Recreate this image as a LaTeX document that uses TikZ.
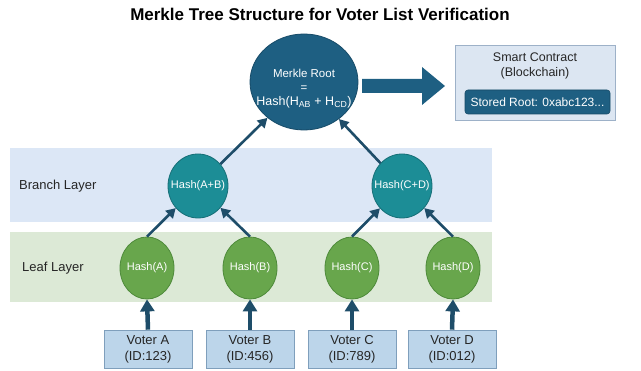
\documentclass[tikz,border=0pt]{standalone}
\usepackage{fontspec}
\setmainfont{Liberation Sans}
\usetikzlibrary{arrows.meta,shapes.geometric}

\definecolor{rootblue}{HTML}{1E5F82}
\definecolor{rootedge}{HTML}{174B68}
\definecolor{branchteal}{HTML}{1C8D96}
\definecolor{branchedge}{HTML}{166F77}
\definecolor{leafgreen}{HTML}{68A64C}
\definecolor{leafedge}{HTML}{4E8A3A}
\definecolor{bandblue}{HTML}{DCE7F6}
\definecolor{bandgreen}{HTML}{DCE9D6}
\definecolor{arrowblue}{HTML}{1E4D69}
\definecolor{voterfill}{HTML}{BCD5EA}
\definecolor{voteredge}{HTML}{7F9FBC}
\definecolor{scfill}{HTML}{DCE6F2}
\definecolor{scedge}{HTML}{9DB1C8}
\definecolor{txt}{HTML}{262626}

\tikzset{
  hashnode/.style={ellipse, inner sep=0pt, line width=0.8pt},
  rootnode/.style={hashnode, fill=rootblue, draw=rootedge, minimum width=108pt, minimum height=96pt},
  branchnode/.style={hashnode, fill=branchteal, draw=branchedge, minimum width=60pt, minimum height=64pt},
  leafnode/.style={hashnode, fill=leafgreen, draw=leafedge, minimum width=54pt, minimum height=62pt},
  inlabel/.style={text=white, font=\fontsize{11}{14}\selectfont, align=center, inner sep=0pt},
  voterbox/.style={rectangle, fill=voterfill, draw=voteredge, line width=0.6pt,
    minimum width=88pt, minimum height=38pt, inner sep=0pt, align=center,
    text=txt, font=\fontsize{13}{16}\selectfont},
  layerlabel/.style={anchor=west, text=txt, font=\fontsize{13}{15}\selectfont, inner sep=0pt},
  treearrow/.style={draw=arrowblue, line width=2.6pt, -{Triangle[width=10.5pt,length=9.5pt]}},
  voterarrow/.style={draw=arrowblue, line width=4.5pt, -{Triangle[width=14pt,length=12pt]}},
}

\begin{document}
\begin{tikzpicture}[x=1pt,y=-1pt]
\useasboundingbox (0,0) rectangle (641,371);

% layer bands
\fill[bandblue] (10,148) rectangle (492,222);
\fill[bandgreen] (10,232) rectangle (492,302);

% title
\node[font=\bfseries\fontsize{17}{19}\selectfont, text=black] (title) at (320,14)
  {Merkle Tree Structure for Voter List Verification};

% layer names
\node[layerlabel] (branchlbl) at (19,186) {Branch Layer};
\node[layerlabel] (leaflbl) at (22,268) {Leaf Layer};

% root
\node[rootnode] (root) at (304,82) {};
\node[inlabel, font=\fontsize{11.5}{14}\selectfont] (rootlbl) at ([yshift=-7pt]root.center)
  {Merkle Root\\=\\{\fontsize{12.5}{14}\selectfont Hash(H\textsubscript{AB} + H\textsubscript{CD})}};

% branch layer
\node[branchnode] (hAB) at (198,186) {};
\node[inlabel] at (hAB.center) {Hash(A+B)};
\node[branchnode] (hCD) at (402,186) {};
\node[inlabel] at (hCD.center) {Hash(C+D)};

% leaf layer
\node[leafnode] (hA) at (147,268) {};
\node[inlabel] at (hA.center) {Hash(A)};
\node[leafnode] (hB) at (250,268) {};
\node[inlabel] at (hB.center) {Hash(B)};
\node[leafnode] (hC) at (352,268) {};
\node[inlabel] at (hC.center) {Hash(C)};
\node[leafnode] (hD) at (453,268) {};
\node[inlabel] at (hD.center) {Hash(D)};

% voter records
\node[voterbox] (vA) at (148,349) {Voter A\\(ID:123)};
\node[voterbox] (vB) at (250,349) {Voter B\\(ID:456)};
\node[voterbox] (vC) at (352,349) {Voter C\\(ID:789)};
\node[voterbox] (vD) at (452,349) {Voter D\\(ID:012)};

% smart contract
\node[rectangle, fill=scfill, draw=scedge, line width=0.7pt, minimum width=160pt,
  minimum height=75pt, inner sep=0pt] (sc) at (535,82.5) {};
\node[text=txt, align=center, font=\fontsize{12.5}{15}\selectfont, inner sep=0pt]
  (sctitle) at (535,66) {Smart Contract\\(Blockchain)};
\node[rectangle, rounded corners=3pt, fill=rootblue, draw=rootedge, line width=0.6pt,
  minimum width=145pt, minimum height=24pt, inner sep=0pt, text=white,
  font=\fontsize{12}{14}\selectfont] (stored) at (537.5,102) {Stored Root: 0xabc123...};

% connectors
\draw[voterarrow] (vA.north) -- (hA.south);
\draw[voterarrow] (vB.north) -- (hB.south);
\draw[voterarrow] (vC.north) -- (hC.south);
\draw[voterarrow] (vD.north) -- (hD.south);

\draw[treearrow] (hA.north) -- (hAB);
\draw[treearrow] (hB.north) -- (hAB);
\draw[treearrow] (hC.north) -- (hCD);
\draw[treearrow] (hD.north) -- (hCD);
\draw[treearrow] (hAB) -- (root);
\draw[treearrow] (hCD) -- (root);

% publish arrow to the contract
\coordinate (pubstart) at (362,86);
\fill[rootblue] (pubstart) ++(0,-7) -- ++(60,0) -- ++(0,-12) -- (445,86)
  -- (422,105) -- (422,93) -- (362,93) -- cycle;
\end{tikzpicture}
\end{document}
